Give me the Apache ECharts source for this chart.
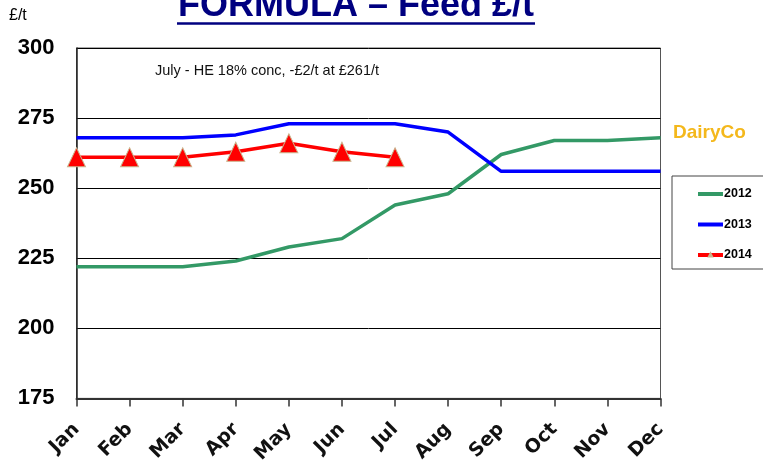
<!DOCTYPE html>
<html>
<head>
<meta charset="utf-8">
<script src="https://cdn.jsdelivr.net/npm/echarts@6/dist/echarts.min.js"></script>
<style>
  html, body { margin: 0; padding: 0; background: #fff; }
  #chart { width: 763px; height: 466px; }
</style>
</head>
<body>
<div id="chart"></div>
<script>
  var months = ['Jan', 'Feb', 'Mar', 'Apr', 'May', 'Jun', 'Jul', 'Aug', 'Sep', 'Oct', 'Nov', 'Dec'];
  var feed2012 = [222, 222, 222, 224, 229, 232, 244, 248, 262, 267, 267, 268];
  var feed2013 = [268, 268, 268, 269, 273, 273, 273, 270, 256, 256, 256, 256];
  var feed2014 = [261, 261, 261, 263, 266, 263, 261];
  var yTicks = [175, 200, 225, 250, 275, 300];

  var chart = echarts.init(document.getElementById('chart'));
  var option = {
    animation: false,
    backgroundColor: '#fff',
    grid: {
      left: 76.5, right: 102.5, top: 48, bottom: 67,
      show: true, borderColor: '#555', borderWidth: 1
    },
    graphic: [
      {
        type: 'text', x: 356, y: 6,
        style: {
          text: 'FORMULA – Feed £/t',
          textAlign: 'center', textVerticalAlign: 'middle',
          fill: '#000080', font: 'bold 36px "Liberation Sans"'
        }
      },
      {
        type: 'line',
        shape: { x1: 177, y1: 23.5, x2: 535, y2: 23.5 },
        style: { stroke: '#000080', lineWidth: 2.5 }
      },
      {
        type: 'text', x: 9, y: 16,
        style: {
          text: '£/t', textVerticalAlign: 'middle',
          fill: '#000', font: '16px "Liberation Sans"'
        }
      },
      {
        type: 'text', x: 155, y: 71,
        style: {
          text: 'July - HE 18% conc, -£2/t at £261/t', textVerticalAlign: 'middle',
          fill: '#111', font: '14.5px "Liberation Sans"'
        }
      },
      {
        type: 'text', x: 673, y: 133,
        style: {
          text: 'DairyCo', textVerticalAlign: 'middle',
          fill: '#F4B81C', font: 'bold 19px "Liberation Sans"'
        }
      }
    ],
    legend: {
      orient: 'vertical',
      left: 672, top: 176,
      padding: [11, 30, 7, 24],
      itemGap: 16.5,
      itemWidth: 25, itemHeight: 4,
      borderColor: '#444', borderWidth: 1,
      lineStyle: { width: 4 },
      textStyle: {
        fontFamily: 'Liberation Sans', fontWeight: 'bold',
        fontSize: 12.5, color: '#000', padding: [0, 0, 0, -4], height: 14, lineHeight: 14
      },
      data: [
        { name: '2012', icon: 'rect' },
        { name: '2013', icon: 'rect' },
        { name: '2014' }
      ]
    },
    xAxis: {
      type: 'category',
      data: months,
      boundaryGap: false,
      axisLine: { lineStyle: { color: '#333', width: 2 } },
      axisTick: { show: true, length: 8, lineStyle: { color: '#333', width: 1.5 } },
      axisLabel: {
        rotate: 45, margin: 28,
        fontFamily: 'DejaVu Sans', fontSize: 19, fontWeight: 'bold', color: '#111'
      },
      splitLine: { show: false }
    },
    yAxis: {
      type: 'value',
      min: yTicks[0], max: yTicks[yTicks.length - 1], interval: 25,
      axisLine: { show: true, lineStyle: { color: '#222', width: 1.5 } },
      axisTick: { show: false },
      axisLabel: {
        margin: 22,
        fontFamily: 'Liberation Sans', fontSize: 22, fontWeight: 'bold', color: '#000'
      },
      splitLine: { show: true, lineStyle: { color: '#000', width: 1 } }
    },
    series: [
      {
        name: '2012', type: 'line', data: feed2012,
        symbol: 'none', color: '#339966',
        lineStyle: { width: 3.5, color: '#339966' }
      },
      {
        name: '2013', type: 'line', data: feed2013,
        symbol: 'none', color: '#0000FF',
        lineStyle: { width: 3.5, color: '#0000FF' }
      },
      {
        name: '2014', type: 'line', data: feed2014,
        symbol: 'triangle', symbolSize: [18, 19],
        color: '#FF0000',
        itemStyle: { color: '#FF0000', borderColor: '#C9B48C', borderWidth: 1 },
        lineStyle: { width: 3.5, color: '#FF0000' },
        z: 3
      }
    ]
  };
  chart.setOption(option);
</script>
</body>
</html>
